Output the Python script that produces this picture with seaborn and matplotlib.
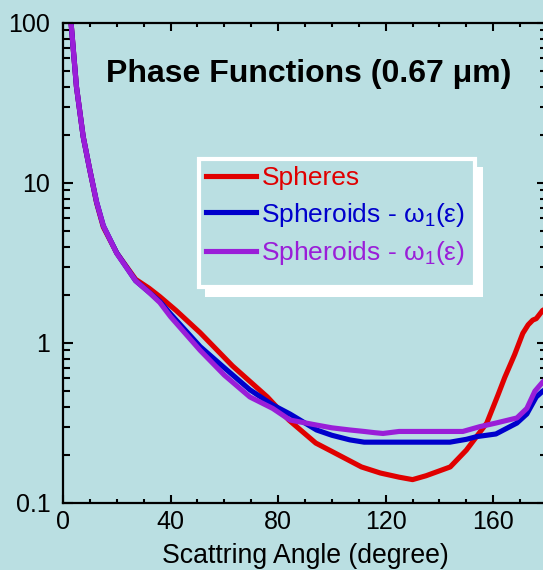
import numpy as np
import pandas as pd
import matplotlib
matplotlib.use("Agg")
import matplotlib.pyplot as plt
import seaborn as sns
from matplotlib.patches import Rectangle
from matplotlib.ticker import FixedLocator, FixedFormatter, LogLocator, NullFormatter, MultipleLocator

# ---------------- data ----------------
sph_angle = [3, 5, 7.5, 10, 12.5, 15, 20, 27, 32, 36, 42, 51, 63, 76, 84, 94, 100, 111,
             118, 125, 130, 135, 144, 150, 157.6, 161.7, 164.3, 168, 171, 173, 174.7,
             176, 178.4, 180]
sph_val = [100, 40, 19.5, 12, 7.5, 5.3, 3.65, 2.5, 2.2, 1.95, 1.6, 1.16, 0.72, 0.46, 0.33,
           0.237, 0.21, 0.168, 0.154, 0.145, 0.14, 0.148, 0.168, 0.214, 0.316, 0.47, 0.61,
           0.85, 1.15, 1.3, 1.39, 1.42, 1.6, 1.65]

spd_angle = [3, 5, 7.5, 10, 12.5, 15, 20, 27, 32, 36, 40, 51, 60, 69.5, 78, 84.4, 94.3,
             100, 106.7, 112, 119, 130, 143.9, 150, 153.9, 161, 168.8, 172.5, 176, 178.4, 180]
spd_val = [100, 40, 19.5, 12, 7.6, 5.4, 3.65, 2.45, 2.08, 1.82, 1.52, 0.95, 0.7, 0.51, 0.41,
           0.36, 0.286, 0.265, 0.248, 0.24, 0.24, 0.24, 0.24, 0.25, 0.26, 0.27, 0.316, 0.36,
           0.46, 0.5, 0.52]

spd2_angle = [3, 5, 7.5, 10, 12.5, 15, 20, 27, 32.3, 36, 40, 51, 60, 69.5, 78, 84.4, 94.3,
              100, 106.7, 112, 116, 119, 125, 135, 148.7, 155, 161, 168.8, 172.5, 175.5,
              178.4, 180]
spd2_val = [100, 40, 19.5, 12, 7.6, 5.4, 3.63, 2.45, 2.05, 1.79, 1.46, 0.9, 0.63, 0.46, 0.39,
            0.33, 0.307, 0.295, 0.286, 0.28, 0.275, 0.272, 0.28, 0.28, 0.28, 0.30, 0.316,
            0.34, 0.39, 0.5, 0.57, 0.6]

labels = ["Spheres", r"Spheroids - ω$_1$(ε)", r"Spheroids - ω$_1$(ε)"]
colors = ["#E00000", "#0000CC", "#9A1ED8"]

y_ticks = [0.1, 1, 10, 100]
y_ticklabels = ["0.1", "1", "10", "100"]
x_ticks = [0, 40, 80, 120, 160]
x_ticklabels = ["0", "40", "80", "120", "160"]

title = "Phase Functions (0.67 μm)"
xlabel = "Scattring Angle (degree)"

# ---------------- style ----------------
BG = "#BADFE2"
plt.rcParams["font.family"] = ["Liberation Sans", "DejaVu Sans"]
plt.rcParams["mathtext.fontset"] = "custom"
plt.rcParams["mathtext.rm"] = "Liberation Sans"
plt.rcParams["mathtext.it"] = "Liberation Sans"
plt.rcParams["mathtext.default"] = "regular"

W, H = 543, 570
fig = plt.figure(figsize=(W / 100, H / 100), dpi=100, facecolor=BG)
ax = fig.add_axes([63 / W, 67 / H, 484 / W, 480 / H])
ax.set_facecolor(BG)

series = [(sph_angle, sph_val), (spd_angle, spd_val), (spd2_angle, spd2_val)]
for (xa, ya), lab, col in zip(series, labels, colors):
    df = pd.DataFrame({"angle": xa, "value": ya})
    sns.lineplot(data=df, x="angle", y="value", ax=ax, color=col, lw=3.7,
                 label=lab, sort=False, estimator=None)

ax.set_yscale("log")
ax.set_xlim(0, 180)
ax.set_ylim(0.1, 100)

ax.yaxis.set_major_locator(FixedLocator(y_ticks))
ax.yaxis.set_major_formatter(FixedFormatter(y_ticklabels))
ax.yaxis.set_minor_locator(LogLocator(base=10, subs=np.arange(2, 10)))
ax.yaxis.set_minor_formatter(NullFormatter())
ax.xaxis.set_major_locator(FixedLocator(x_ticks))
ax.xaxis.set_major_formatter(FixedFormatter(x_ticklabels))
ax.xaxis.set_minor_locator(MultipleLocator(10))

for s in ax.spines.values():
    s.set_linewidth(1.6)
    s.set_color("black")

ax.tick_params(axis="both", which="both", direction="in", top=True, right=True,
               colors="black", width=1.5)
ax.tick_params(axis="y", which="major", length=7, pad=9, labelsize=18)
ax.tick_params(axis="y", which="minor", length=5)
ax.tick_params(axis="x", which="major", length=5.5, pad=5, labelsize=18)
ax.tick_params(axis="x", which="minor", length=3.2)

ax.set_xlabel(xlabel, fontsize=19.2, labelpad=6.5)
ax.set_ylabel("")

ax.text(0.508, 0.893, title, transform=ax.transAxes, ha="center", va="center",
        fontsize=23, fontweight="bold", color="black")

# legend box: white drop-shadow and white frame
def px_rect(x0, y0, x1, y1, **kw):
    return Rectangle((x0 / W, 1 - y1 / H), (x1 - x0) / W, (y1 - y0) / H,
                     transform=fig.transFigure, **kw)

fig.add_artist(px_rect(205, 167, 483, 297, facecolor="white", edgecolor="none", zorder=2))
fig.add_artist(px_rect(199, 159, 475, 287, facecolor=BG, edgecolor="white",
                       linewidth=3.0, zorder=3))

leg = ax.legend(loc="upper left", bbox_to_anchor=(206 / W, 1 - 166 / H),
                bbox_transform=fig.transFigure, frameon=False, fontsize=19,
                handlelength=1.9, handletextpad=0.2, borderpad=0, labelspacing=0.4,
                labelcolor="linecolor", borderaxespad=0)
for h in leg.get_lines():
    h.set_linewidth(3.7)
leg.remove()
fig.add_artist(leg)
leg.set_zorder(5)

fig.savefig("out.png", dpi=100, facecolor=BG)
